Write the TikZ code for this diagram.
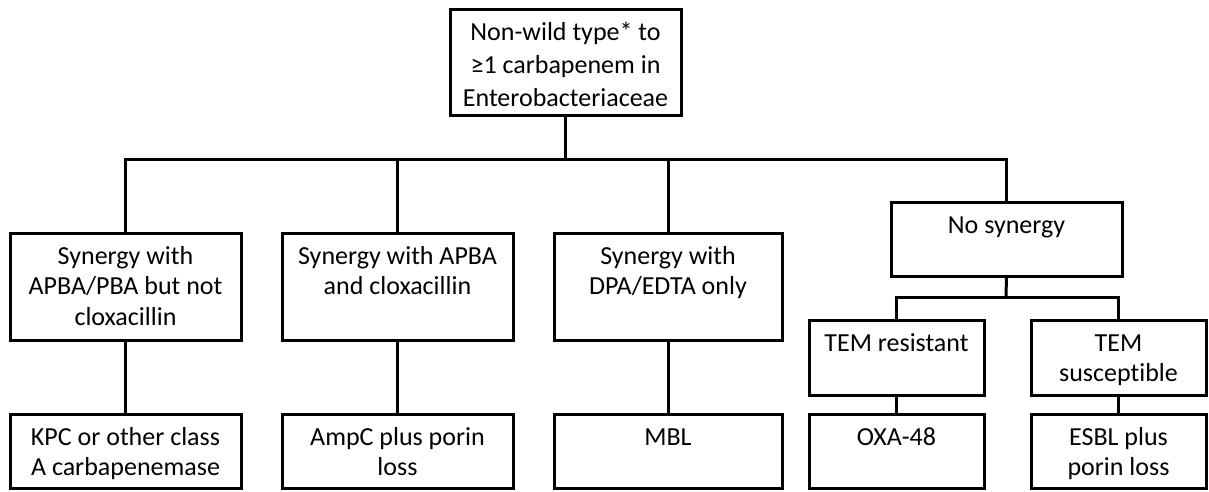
\documentclass[tikz,border=0pt]{standalone}
\usepackage{fontspec}
\setmainfont[Ligatures={NoCommon}]{Carlito}
% #1 baselineskip, #2 width, #3 height, #4 text
\newcommand\bxt[4][30.5pt]{\parbox[c][#3][t]{#2}{\fontsize{26}{#1}\selectfont\centering\rule{0pt}{31pt}#4\par}}
\begin{document}
\begin{tikzpicture}[x=1pt,y=-1pt,
  box/.style={draw=black,line width=3pt,inner sep=0pt,outer sep=0pt,anchor=north west,fill=white},
  conn/.style={draw=black,line width=3pt,line join=miter}]
\useasboundingbox[fill=white] (0,0) rectangle (1209,491);
% top
\node[box] (top) at (450,9) {\bxt[33pt]{231pt}{106pt}{Non-wild type* to\\≥1 carbapenem in\\Enterobacteriaceae}};
% level 2
\node[box] (b1) at (10,233) {\bxt{231pt}{107pt}{Synergy with\\APBA/PBA but not\\cloxacillin}};
\node[box] (b2) at (282,233) {\bxt{231pt}{107pt}{Synergy with APBA\\and cloxacillin}};
\node[box] (b3) at (554,233) {\bxt{228pt}{107pt}{Synergy with\\DPA/EDTA only}};
\node[box] (b4) at (891,202) {\bxt{231pt}{74pt}{No synergy}};
% level 3
\node[box] (t1) at (809,320) {\bxt{175pt}{75pt}{TEM resistant}};
\node[box] (t2) at (1031,320) {\bxt{175pt}{75pt}{TEM\\susceptible}};
% bottom
\node[box] (c1) at (10,414) {\bxt{231pt}{74pt}{KPC or other class\\A carbapenemase}};
\node[box] (c2) at (282,414) {\bxt{231pt}{74pt}{AmpC plus porin\\loss}};
\node[box] (c3) at (554,414) {\bxt{228pt}{74pt}{MBL}};
\node[box] (c4) at (809,414) {\bxt{175pt}{74pt}{OXA-48}};
\node[box] (c5) at (1031,414) {\bxt{175pt}{74pt}{ESBL plus\\porin loss}};
% connectors
\coordinate (bus) at (565,159);
\coordinate (bus2) at (1006,297);
\draw[conn] (b1.north) |- (bus) -| (b4.north);
\draw[conn] (top.south) -- (top.south |- bus);
\draw[conn] (b2.north) -- (b2.north |- bus);
\draw[conn] (b3.north) -- (b3.north |- bus);
\draw[conn] (t1.north) |- (bus2) -| (t2.north);
\draw[conn] (b4.south) -- (bus2);
\draw[conn] (b1.south) -- (c1.north);
\draw[conn] (b2.south) -- (c2.north);
\draw[conn] (b3.south) -- (c3.north);
\draw[conn] (t1.south) -- (c4.north);
\draw[conn] (t2.south) -- (c5.north);
\end{tikzpicture}
\end{document}
